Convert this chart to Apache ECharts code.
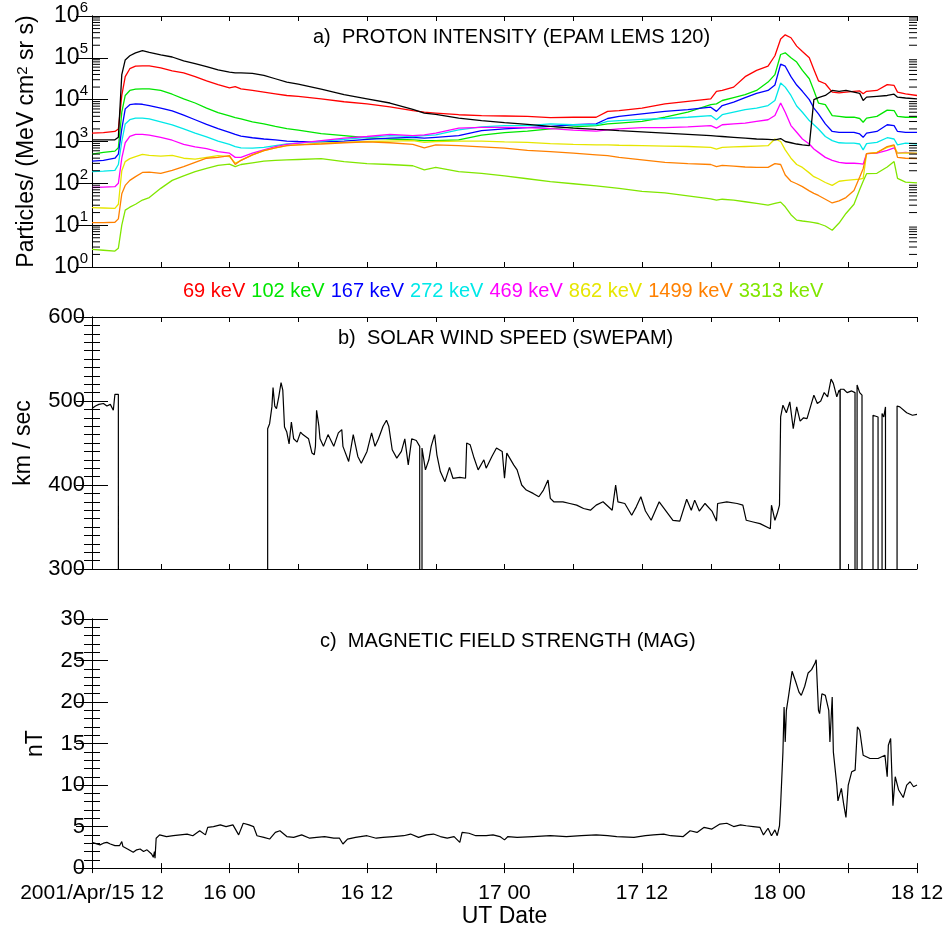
<!DOCTYPE html>
<html>
<head>
<meta charset="utf-8">
<script src="https://cdn.jsdelivr.net/npm/echarts@6/dist/echarts.min.js"></script>
<style>html,body{margin:0;padding:0;background:#fff}#c{width:949px;height:929px}</style>
</head>
<body>
<div id="c"></div>
<script>
// ---------- time (hours since 2001-04-15 12:00 UT) ----------
const xTickHours  = [0, 12, 24, 36, 48, 60, 72];
const xTickLabels = ['2001/Apr/15 12', '16 00', '16 12', '17 00', '17 12', '18 00', '18 12'];

// ---------- panel a: EPAM LEMS 120 proton intensity (log10 of value read) ----------
const epamHours = [0,1,2, 2.3,2.6,2.9, 3.3,3.8,4.4, 5,6,7,8,9,10,11,12, 12.5,13,14,15,16,17,18,
  20,22,24,26,28, 29,30,32,34,36,38,40,42,44, 45,46,48,50,52,54, 54.5,55,56,57,58,59,
  59.6,60.1,60.5,61,61.5,62, 62.6,63,63.4,64,64.6,65.2, 65.8,66.5,67,67.3,67.6, 68.5,69.4,70,70.3,71,72];

const logBlack = [3.04,3.04,3.04, 3.10,4.60,4.95, 5.05,5.12,5.17, 5.13,5.07,5.02,4.93,4.86,4.79,4.71,4.66,
  4.64,4.64,4.63,4.58,4.50,4.42,4.37, 4.25,4.12,4.02,3.92,3.77, 3.68,3.65,3.56,3.50,3.45,3.41,3.36,3.32,3.29,
  3.28,3.26,3.23,3.20,3.17,3.14, 3.13,3.12,3.10,3.08,3.06,3.05, 3.04,3.07,3.00,2.97,2.94,2.92,
  2.90,4.00,4.05,4.10,4.22,4.20, 4.22,4.18,4.15,3.98,4.06, 4.08,4.10,4.13,4.06,4.04,4.02];
const log69 = [3.20,3.21,3.24, 3.30,4.10,4.55, 4.74,4.80,4.81, 4.81,4.76,4.69,4.64,4.55,4.45,4.36,4.28,
  4.31,4.26,4.22,4.18,4.14,4.10,4.08, 4.02,3.95,3.90,3.83,3.74, 3.70,3.68,3.64,3.62,3.61,3.60,3.57,3.58,3.58,
  3.72,3.74,3.80,3.90,3.96,4.02, 4.20,4.22,4.30,4.55,4.70,4.80, 5.05,5.45,5.55,5.48,5.28,5.15,
  5.00,4.72,4.45,4.38,4.18,4.16, 4.18,4.20,4.21,4.14,4.20, 4.22,4.36,4.34,4.18,4.14,4.10];
const log102 = [2.70,2.74,2.77, 2.85,3.70,4.10, 4.22,4.25,4.26, 4.26,4.22,4.13,4.02,3.92,3.80,3.69,3.61,
  3.57,3.54,3.47,3.42,3.36,3.31,3.27, 3.19,3.14,3.09,3.06,3.04, 3.02,3.02,3.04,3.15,3.21,3.25,3.30,3.35,3.38,
  3.42,3.44,3.48,3.58,3.70,3.88, 3.90,3.98,4.05,4.12,4.22,4.42, 4.60,5.08,5.12,5.00,4.90,4.70,
  4.50,4.22,3.92,3.88,3.62,3.60, 3.58,3.58,3.55,3.46,3.56, 3.60,3.75,3.74,3.60,3.58,3.58];
const log167 = [2.53,2.55,2.60, 2.70,3.30,3.78, 3.88,3.90,3.89, 3.86,3.80,3.73,3.63,3.52,3.41,3.31,3.22,
  3.17,3.13,3.09,3.06,3.04,3.01,3.00, 2.99,3.01,3.05,3.08,3.10, 3.08,3.10,3.14,3.26,3.30,3.33,3.36,3.40,3.42,
  3.55,3.60,3.66,3.72,3.76,3.82, 3.72,3.86,3.94,4.05,4.15,4.22, 4.35,4.85,4.80,4.55,4.35,4.20,
  4.00,3.80,3.66,3.42,3.24,3.22, 3.22,3.22,3.18,3.10,3.20, 3.24,3.40,3.38,3.24,3.22,3.22];
const log272 = [2.28,2.29,2.31, 2.45,3.00,3.42, 3.52,3.56,3.56, 3.54,3.47,3.40,3.30,3.20,3.11,3.01,2.93,
  2.88,2.85,2.84,2.86,2.90,2.94,2.96, 3.01,3.05,3.10,3.14,3.12, 3.14,3.16,3.28,3.35,3.38,3.38,3.42,3.40,3.40,
  3.48,3.50,3.53,3.55,3.58,3.62, 3.52,3.64,3.70,3.76,3.80,3.86, 3.98,4.40,4.30,4.10,3.85,3.70,
  3.50,3.40,3.30,3.12,3.02,2.97, 2.96,2.96,2.94,2.80,2.95, 2.98,3.09,3.06,2.92,2.96,2.94];
const log469 = [1.90,1.91,1.92, 2.00,2.60,2.97, 3.12,3.17,3.17, 3.15,3.10,3.03,2.93,2.87,2.83,2.76,2.72,
  2.62,2.62,2.72,2.80,2.88,2.93,2.96, 3.02,3.08,3.12,3.17,3.14, 3.16,3.20,3.32,3.34,3.34,3.33,3.31,3.27,3.25,
  3.28,3.30,3.33,3.33,3.35,3.38, 3.32,3.40,3.42,3.44,3.48,3.52, 3.62,3.92,3.70,3.38,3.22,3.06,
  2.94,2.82,2.74,2.62,2.55,2.50, 2.48,2.48,2.47,2.46,2.71, 2.72,2.79,2.85,2.72,2.74,2.71];
const log862 = [1.42,1.41,1.40, 1.50,2.30,2.52, 2.59,2.64,2.69, 2.67,2.65,2.67,2.60,2.58,2.62,2.66,2.64,
  2.48,2.55,2.68,2.78,2.85,2.90,2.92, 2.96,2.98,3.00,3.01,3.02, 2.98,3.00,3.01,3.01,2.99,2.98,2.95,2.93,2.92,
  2.92,2.91,2.90,2.89,2.88,2.86, 2.82,2.86,2.87,2.88,2.89,2.90, 3.06,3.00,2.80,2.60,2.45,2.38,
  2.25,2.16,2.11,2.02,1.95,2.05, 2.07,2.09,2.10,2.12,2.71, 2.74,2.86,2.90,2.72,2.73,2.72];
const log1499 = [1.06,1.06,1.07, 1.15,1.75,1.95, 2.07,2.16,2.26, 2.27,2.24,2.31,2.40,2.50,2.60,2.62,2.66,
  2.45,2.55,2.68,2.78,2.85,2.90,2.92, 2.94,2.97,2.99,2.97,2.93, 2.85,2.92,2.90,2.87,2.84,2.79,2.76,2.72,2.68,
  2.66,2.62,2.56,2.50,2.47,2.45, 2.40,2.43,2.41,2.39,2.38,2.38, 2.47,2.45,2.20,2.05,1.99,1.92,
  1.82,1.76,1.71,1.62,1.53,1.58, 1.66,1.83,2.15,2.35,2.71, 2.73,2.88,2.92,2.62,2.60,2.59];
const log3313 = [0.42,0.40,0.38, 0.45,1.00,1.36, 1.43,1.50,1.60, 1.66,1.88,2.07,2.18,2.28,2.36,2.43,2.46,
  2.40,2.45,2.49,2.53,2.55,2.56,2.57, 2.59,2.52,2.47,2.45,2.42, 2.32,2.38,2.28,2.24,2.18,2.11,2.04,1.99,1.94,
  1.91,1.88,1.81,1.77,1.70,1.63, 1.60,1.62,1.60,1.56,1.52,1.48, 1.52,1.55,1.44,1.25,1.12,1.10,
  1.08,1.06,1.04,0.98,0.88,1.05, 1.28,1.50,1.85,2.05,2.23, 2.24,2.39,2.52,2.12,2.03,2.01];

const channelNames  = ['69 keV','102 keV','167 keV','272 keV','469 keV','862 keV','1499 keV','3313 keV'];
const channelColors = ['#ff0000','#00e600','#0000ff','#00e8e8','#ff00ff','#e6e600','#ff8000','#80e600'];
const channelLogs   = [log69, log102, log167, log272, log469, log862, log1499, log3313];

// ---------- panel b: SWEPAM solar wind speed (km/s); fill value = data gap ----------
const SW_FILL = -9999.9;
const swHours = [0,0.3,0.6,1.0,1.3,1.6,1.86,2.0,2.3,2.44, 2.44,15.33,
  15.33,15.5,15.7,15.8,15.95,16.1,16.3,16.5,16.65,16.8,17.0,17.2,17.4,17.6,17.9,18.2,18.4,18.9,19.2,19.4,19.5,19.6,19.8,19.9,
  20.2,20.6,21.1,21.5,21.8,21.9,22.4,22.8,23.2,23.5,24.0,24.4,24.7,25.0,25.4,25.7,25.9,26.2,26.6,27.0,27.3,27.6,27.9,28.3,28.6,
  28.6,28.8,
  28.8,29.1,29.4,29.6,29.9,30.1,30.4,30.8,31.2,31.5,32.1,32.6,32.7,33.0,33.3,33.7,34.2,34.4,34.9,35.3,35.8,36.0,36.2,36.8,37.1,
  37.5,37.9,38.5,39.0,39.4,39.8,40.0,40.3,41.1,41.7,42.3,42.9,43.5,44.0,44.6,45.4,45.7,45.9,46.5,47.1,47.5,47.9,48.3,48.8,
  49.5,50.1,50.7,51.3,51.9,52.3,52.6,53.0,53.5,54.1,54.5,54.6,55.4,56.3,56.8,57.1,57.7,58.3,59.2,59.3,59.6,59.8,60.0,
  60.1,60.3,60.6,60.9,61.2,61.5,61.8,62.1,62.4,62.7,63.0,63.3,63.6,63.9,64.2,64.5,64.7,65.0,65.2,65.28,
  65.28,65.3, 65.3,65.6,65.9,66.3,66.59, 66.59,66.77, 66.77,67.0,67.2, 67.2,68.16,
  68.16,68.3,68.6,68.77, 68.77,68.95, 68.95,69.1,69.25, 69.25,70.26, 70.26,70.5,71.1,71.6,72];
const swSpeed = [491,494,496,497,494,496,489,508,508,508, SW_FILL,SW_FILL,
  467,473,493,516,494,491,505,522,513,469,463,449,475,455,451,463,460,455,438,436,446,489,470,455,
  446,460,446,462,466,446,428,460,434,426,440,462,446,455,470,477,470,442,432,440,455,424,455,453,446,
  SW_FILL,SW_FILL,
  444,418,430,446,460,436,416,404,421,408,409,408,450,448,434,418,430,420,434,444,440,408,438,424,418,
  400,394,390,386,394,406,384,380,380,378,376,372,370,376,380,370,400,380,378,364,374,386,369,358,
  380,369,358,357,383,370,382,369,378,369,357,378,380,378,376,358,356,354,348,376,358,366,376,
  481,495,486,499,467,493,476,480,479,493,507,497,500,510,505,526,521,505,513,510,
  SW_FILL,SW_FILL, 514,514,510,512,510, SW_FILL,SW_FILL, 519,510,507, SW_FILL,SW_FILL,
  483,481,481,479, SW_FILL,SW_FILL, 485,481,493, SW_FILL,SW_FILL, 494,493,486,483,484];

// ---------- panel c: MAG field strength (nT) ----------
const magHours = [0,0.7,1.0,1.3,1.6,2.0,2.4,2.6,2.7,3.1,3.6,3.9,4.2,4.5,4.8,5.2,5.35,5.45,5.5,5.6,5.9,6.5,7.1,7.7,8.3,8.8,
  9.4,9.9,10.1,10.6,11.2,11.7,12.3,12.8,13.2,13.7,14.1,14.4,15.0,15.5,16.0,16.4,17.0,17.6,18.3,19.0,19.6,20.3,21.1,21.6,21.9,
  22.3,23.0,24.0,24.8,25.4,26.3,27.2,27.8,28.5,29.2,29.8,30.4,31.0,31.6,32.1,32.3,32.9,33.5,34.4,35.0,35.6,36.0,36.3,37.1,
  38.5,40.0,41.4,42.7,44.0,45.0,45.8,47.3,48.3,49.0,49.9,50.5,51.6,52.2,52.8,53.4,54.1,54.8,55.4,56.0,56.6,57.1,57.7,58.3,
  58.6,59.0,59.3,59.6,59.8,60.0,60.1,60.3,60.4,60.5,60.6,60.8,61.1,61.4,61.7,61.9,62.2,62.5,62.8,63.1,63.2,63.4,63.5,63.7,
  64.0,64.3,64.4,64.6,64.7,65.0,65.1,65.4,65.6,65.8,66.0,66.3,66.6,66.8,67.0,67.3,67.9,68.6,69.2,69.4,69.5,69.7,69.9,70.1,
  70.4,70.8,71.1,71.4,71.7,72];
const magField = [3.1,2.8,3.0,3.1,2.9,2.7,2.7,3.2,2.6,2.3,1.9,2.2,2.3,2.0,2.2,1.7,1.3,2.0,1.2,3.6,4.0,3.8,3.9,4.0,4.1,3.9,
  4.5,4.0,4.9,5.0,5.2,5.0,5.2,4.0,5.4,5.2,5.0,3.9,3.7,3.5,4.3,4.5,3.8,3.7,4.0,3.6,3.7,3.8,3.6,3.6,2.9,
  3.5,3.7,3.9,3.6,3.7,3.8,3.9,4.1,3.7,4.0,4.1,3.8,3.6,3.8,3.1,4.3,4.2,3.9,3.9,4.0,3.8,3.4,3.8,3.7,
  3.8,3.9,3.8,3.9,4.0,3.9,3.8,3.7,3.9,4.0,4.1,3.9,3.8,4.5,4.3,4.9,4.7,5.3,5.4,5.0,5.2,5.1,5.0,4.9,
  4.0,4.8,3.9,4.6,3.9,5.1,7.7,14.0,19.4,15.2,19.0,20.8,23.7,22.5,21.2,20.8,21.9,23.5,23.9,24.7,25.1,19.0,18.6,21.0,
  20.8,19.0,15.2,20.6,14.0,10.0,8.1,9.6,7.7,6.1,10.0,11.6,11.8,17.0,16.6,13.6,13.2,13.2,13.6,11.0,14.8,15.6,7.5,11.0,
  9.4,8.5,10.0,10.4,9.8,10.0];

// ---------- layout / styling ----------
const FONT = '"Liberation Sans", Arial, Helvetica, sans-serif';
const G = { left: 92, width: 825, height: 252 };
const panelTops = [15, 317, 619];

function xAxisPair(gridIndex, showLabels) {
  const common = {
    type: 'value', gridIndex, min: 0, max: 72, interval: 6,
    axisLine: { show: true, lineStyle: { color: '#000', width: 1 } },
    axisTick: { show: true, inside: true, length: 5, lineStyle: { color: '#000' } },
    splitLine: { show: false }
  };
  const bottom = Object.assign({}, common, {
    position: 'bottom',
    axisLabel: showLabels ? {
      show: true, margin: 15, fontSize: 21, color: '#000', fontFamily: FONT,
      formatter: v => { const k = xTickHours.indexOf(Math.round(v)); return k >= 0 ? xTickLabels[k] : ''; }
    } : { show: false }
  });
  if (showLabels) {
    Object.assign(bottom, { name: 'UT Date', nameLocation: 'middle', nameGap: 36,
      nameTextStyle: { fontSize: 23, color: '#000', fontFamily: FONT } });
  }
  const top = Object.assign({}, common, { position: 'top', axisLabel: { show: false } });
  return [bottom, top];
}

function linearYPair(gridIndex, min, max, interval, minorSplit, name, nameGap) {
  const common = {
    type: 'value', gridIndex, min, max, interval,
    axisLine: { show: true, lineStyle: { color: '#000', width: 1 } },
    axisTick: { show: true, inside: true, length: 16, lineStyle: { color: '#000' } },
    minorTick: { show: true, splitNumber: minorSplit, length: 8, lineStyle: { color: '#000' } },
    splitLine: { show: false }
  };
  const left = Object.assign({}, common, {
    position: 'left', name, nameLocation: 'middle', nameRotate: 90, nameGap,
    nameTextStyle: { fontSize: 23, color: '#000', fontFamily: FONT },
    axisLabel: { show: true, margin: 7, fontSize: 22, color: '#000', fontFamily: FONT }
  });
  const right = Object.assign({}, common, { position: 'right', axisLabel: { show: false } });
  return [left, right];
}

function logYPair(gridIndex) {
  const common = {
    type: 'log', logBase: 10, gridIndex, min: 1, max: 1e6, splitNumber: 6,
    axisLine: { show: true, lineStyle: { color: '#000', width: 1 } },
    axisTick: { show: true, inside: true, length: 16, lineStyle: { color: '#000' } },
    splitLine: { show: false }
  };
  const left = Object.assign({}, common, {
    position: 'left',
    name: 'Particles/ (MeV cm{e|2} sr s)', nameLocation: 'middle', nameRotate: 90, nameGap: 54,
    nameTextStyle: { fontSize: 23, color: '#000', fontFamily: FONT,
      rich: { e: { fontSize: 15, color: '#000', fontFamily: FONT, verticalAlign: 'top' } } },
    axisLabel: {
      show: true, margin: 4, color: '#000', fontFamily: FONT,
      formatter: v => '{b|10}{e|' + Math.round(Math.log10(v)) + '}',
      rich: {
        b: { fontSize: 23, color: '#000', fontFamily: FONT, lineHeight: 32 },
        e: { fontSize: 15, color: '#000', fontFamily: FONT, verticalAlign: 'top', lineHeight: 18 }
      }
    }
  });
  const right = Object.assign({}, common, { position: 'right', axisLabel: { show: false } });
  return [left, right];
}

// log minor tick positions (2..9 x 10^n) for panel a
const logMinorTicks = [];
for (let d = 0; d < 6; d++) for (let k = 2; k <= 9; k++) logMinorTicks.push(k * Math.pow(10, d));

const lineStyleBase = { width: 1.3 };
const series = [];
channelLogs.forEach((arr, i) => {
  series.push({
    name: channelNames[i], type: 'line', xAxisIndex: 0, yAxisIndex: 0,
    data: epamHours.map((t, j) => [t, Math.pow(10, arr[j])]),
    showSymbol: false, symbol: 'none', animation: false, silent: true, clip: true,
    lineStyle: Object.assign({ color: channelColors[i] }, lineStyleBase),
    itemStyle: { color: channelColors[i] }, z: 3
  });
});
series.push({
  name: 'black', type: 'line', xAxisIndex: 0, yAxisIndex: 0,
  data: epamHours.map((t, j) => [t, Math.pow(10, logBlack[j])]),
  showSymbol: false, symbol: 'none', animation: false, silent: true, clip: true,
  lineStyle: Object.assign({ color: '#000' }, lineStyleBase), z: 3
});
series.push({
  type: 'custom', xAxisIndex: 0, yAxisIndex: 0, silent: true, animation: false, clip: false, z: 4,
  data: logMinorTicks.map(v => [0, v]),
  renderItem: (params, api) => {
    const v = api.value(1);
    const pL = api.coord([0, v]);
    const pR = api.coord([72, v]);
    return { type: 'group', children: [
      { type: 'line', shape: { x1: pL[0], y1: pL[1], x2: pL[0] + 8, y2: pL[1] }, style: { stroke: '#000', lineWidth: 1 } },
      { type: 'line', shape: { x1: pR[0] - 8, y1: pR[1], x2: pR[0], y2: pR[1] }, style: { stroke: '#000', lineWidth: 1 } }
    ] };
  }
});
series.push({
  name: 'speed', type: 'line', xAxisIndex: 2, yAxisIndex: 2,
  data: swHours.map((t, j) => [t, swSpeed[j]]),
  showSymbol: false, symbol: 'none', animation: false, silent: true, clip: true,
  lineStyle: { color: '#000', width: 1.2 }
});
series.push({
  name: 'B', type: 'line', xAxisIndex: 4, yAxisIndex: 4,
  data: magHours.map((t, j) => [t, magField[j]]),
  showSymbol: false, symbol: 'none', animation: false, silent: true, clip: true,
  lineStyle: { color: '#000', width: 1.2 }
});

const titleStyle = { fontSize: 20, fontWeight: 'normal', color: '#000', fontFamily: FONT };
const option = {
  backgroundColor: '#fff',
  animation: false,
  title: [
    { text: 'a)  PROTON INTENSITY (EPAM LEMS 120)', left: 313, top: 27, padding: 0, textStyle: titleStyle },
    { text: 'b)  SOLAR WIND SPEED (SWEPAM)', left: 338, top: 328, padding: 0, textStyle: titleStyle },
    { text: 'c)  MAGNETIC FIELD STRENGTH (MAG)', left: 320, top: 631, padding: 0, textStyle: titleStyle }
  ],
  legend: {
    left: 178, top: 281, padding: 0, itemGap: 1, itemWidth: 0, itemHeight: 0, icon: 'none',
    selectedMode: false,
    textStyle: { fontSize: 20, fontFamily: FONT },
    data: channelNames.map((n, i) => ({ name: n, textStyle: { color: channelColors[i] } }))
  },
  grid: panelTops.map(t => ({ left: G.left, top: t, width: G.width, height: G.height, containLabel: false })),
  xAxis: [].concat(xAxisPair(0, false), xAxisPair(1, false), xAxisPair(2, true)),
  yAxis: [].concat(
    logYPair(0),
    linearYPair(1, 300, 600, 100, 10, 'km / sec', 57),
    linearYPair(2, 0, 30, 5, 5, 'nT', 45)
  ),
  series
};

const chart = echarts.init(document.getElementById('c'), null, { renderer: 'canvas' });
chart.setOption(option);
</script>
</body>
</html>
